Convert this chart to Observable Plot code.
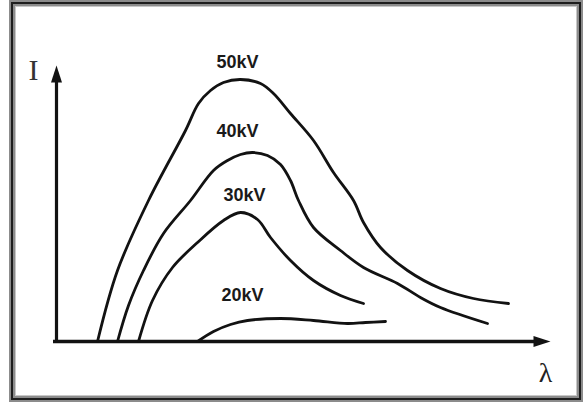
<!DOCTYPE html>
<html>
<head>
<meta charset="utf-8">
<script src="https://cdn.jsdelivr.net/npm/d3@7"></script>
<script src="https://cdn.jsdelivr.net/npm/@observablehq/plot@0.6"></script>
<style>
  html, body { margin: 0; padding: 0; background: #fff; }
  #wrap { position: relative; width: 584px; height: 407px; overflow: hidden; }
  #frame {
    position: absolute; left: 9px; top: 0px; width: 574px; height: 402px;
    box-sizing: border-box; border: 2px solid #8c8c8c;
    box-shadow: inset 0 0 0 2px #1e1e1e, inset 0 0 0 4px #8c8c8c, inset 0 0 0 5px #c8c8c8;
    pointer-events: none;
  }
</style>
</head>
<body>
<div id="wrap"><div id="frame"></div></div>
<script>
// Continuous X-ray spectra: intensity I against wavelength λ (arbitrary units)
const series = ["50kV", "40kV", "30kV", "20kV"];

const lambda50 = [41, 61, 92, 129, 142, 154, 167, 184, 204, 217, 234, 257, 277, 297, 307, 324, 351, 384, 417, 452];
const int50    = [0, 71, 141, 211, 238, 251, 259, 262, 258, 248, 228, 201, 169, 141, 119, 94, 71, 53, 43, 38];

const lambda40 = [61, 72, 87, 107, 134, 157, 171, 184, 196, 211, 224, 234, 242, 257, 284, 307, 341, 364, 384, 431];
const int40    = [0, 36, 71, 108, 141, 171, 181, 187, 189, 186, 177, 161, 141, 114, 91, 74, 58, 44, 34, 18];

const lambda30 = [82, 96, 116, 141, 167, 184, 201, 214, 234, 257, 284, 307];
const int30    = [0, 41, 74, 99, 121, 129, 122, 104, 81, 61, 46, 38];

const lambda20 = [141, 157, 174, 191, 224, 257, 291, 309, 329];
const int20    = [0, 10, 17, 21, 23, 21, 18, 19, 20];

// voltage labels and where they sit
const labelLambda = [181, 181, 188, 186];
const labelInt    = [279, 210, 146, 46];

// axis extents (arrow tips)
const axisLambdaMax = 494;
const axisIntMax = 276;

const curves = [
  [lambda50, int50], [lambda40, int40], [lambda30, int30], [lambda20, int20]
].flatMap(([xs, ys], i) => xs.map((x, j) => ({kv: series[i], lambda: x, I: ys[j]})));

const labels = series.map((s, i) => ({text: s, lambda: labelLambda[i], I: labelInt[i]}));

// filled, elongated arrow head pointing up with its tip at the origin
const arrowHead = {
  draw(context) {
    context.moveTo(0, 0);
    context.lineTo(5.5, 17);
    context.lineTo(-5.5, 17);
    context.closePath();
  }
};

const ink = "#121212";

const chart = Plot.plot({
  width: 584,
  height: 407,
  marginLeft: 56,
  marginRight: 28,
  marginTop: 41,
  marginBottom: 66,
  x: {domain: [0, 500], axis: null},
  y: {domain: [0, 300], axis: null},
  style: {background: "transparent", overflow: "visible"},
  marks: [
    // axes with arrow heads
    Plot.ruleX([0], {y1: -1, y2: axisIntMax - 10, stroke: ink, strokeWidth: 3.2}),
    Plot.ruleY([0], {x1: -3, x2: axisLambdaMax - 10, stroke: ink, strokeWidth: 3.4}),
    Plot.dot([{lambda: 0, I: axisIntMax}], {x: "lambda", y: "I", symbol: arrowHead, fill: ink, stroke: "none"}),
    Plot.dot([{lambda: axisLambdaMax, I: 0}], {x: "lambda", y: "I", symbol: arrowHead, rotate: 90, fill: ink, stroke: "none"}),
    // spectra
    Plot.line(curves, {x: "lambda", y: "I", z: "kv", curve: "catmull-rom", stroke: ink, strokeWidth: 2.8, strokeLinecap: "round"}),
    // voltage labels
    Plot.text(labels, {x: "lambda", y: "I", text: "text", fontSize: 18, fontWeight: "bold", fontFamily: "Liberation Sans, Arial, sans-serif", fill: "#1a1a1a"}),
    // axis titles
    Plot.text([{t: "I", lambda: -23, I: 271}], {x: "lambda", y: "I", text: "t", fontSize: 30, fontFamily: "Liberation Serif, Times New Roman, serif", fill: "#333"}),
    Plot.text([{t: "λ", lambda: 489, I: -32}], {x: "lambda", y: "I", text: "t", fontSize: 28, fontFamily: "Liberation Serif, Times New Roman, serif", fill: "#222"})
  ]
});

document.getElementById("wrap").prepend(chart);
</script>
</body>
</html>
